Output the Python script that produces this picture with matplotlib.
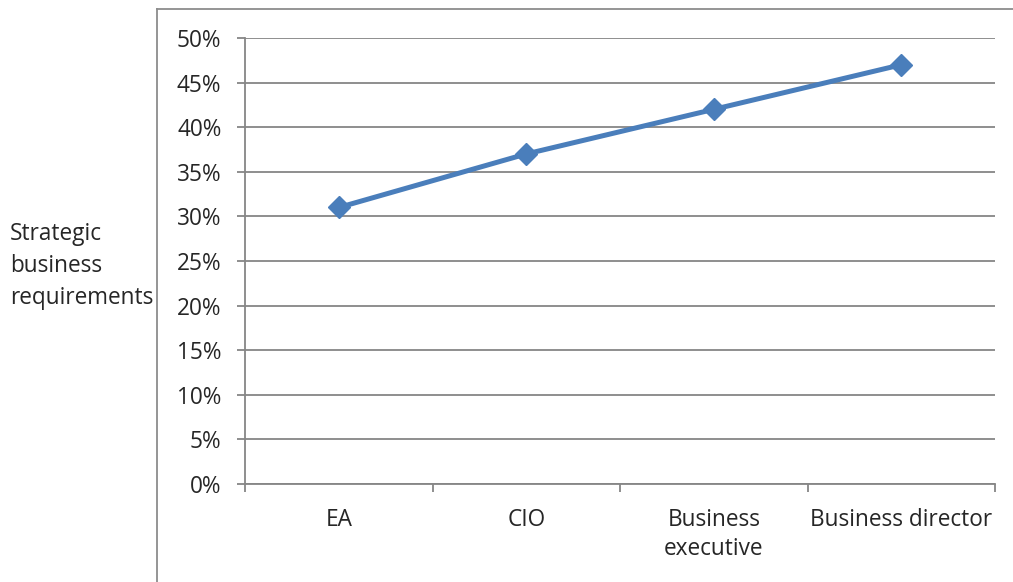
import matplotlib.pyplot as plt
from matplotlib.lines import Line2D
from matplotlib.ticker import FuncFormatter, MultipleLocator

categories = ["EA", "CIO", "Business\nexecutive", "Business director"]
values = [0.31, 0.37, 0.42, 0.47]
y_label = "Strategic\nbusiness\nrequirements"

W, H = 1013, 582
line_color = "#4a7ebb"
grid_color = "#868686"
text_color = "#262626"
fs = 16.3

plt.rcParams["font.family"] = ["Open Sans", "DejaVu Sans"]

fig = plt.figure(figsize=(W / 100, H / 100), dpi=100)
ax = fig.add_axes([245 / W, 1 - 484 / H, (995 - 245) / W, (484 - 38) / H])

x = list(range(len(categories)))
ax.plot(x, values, color=line_color, lw=3.6, marker="D", ms=11,
        markerfacecolor=line_color, markeredgecolor=line_color, zorder=3,
        solid_capstyle="round")

ax.set_xlim(-0.5, len(categories) - 0.5)
ax.set_ylim(0, 0.5)
ax.yaxis.set_major_locator(MultipleLocator(0.05))
ax.yaxis.set_major_formatter(FuncFormatter(lambda v, _: f"{round(v * 100)}%"))
ax.grid(axis="y", color=grid_color, lw=1.3)
ax.set_axisbelow(True)

# category boundaries carry the tick marks, labels sit at the centres
ax.set_xticks([i - 0.5 for i in range(len(categories) + 1)])
ax.set_xticklabels([])
ax.set_xticks(x, minor=True)
ax.set_xticklabels(categories, minor=True, fontsize=fs, color=text_color,
                   linespacing=1.3)
ax.tick_params(axis="x", which="minor", length=0, pad=17)
ax.tick_params(axis="x", which="major", length=6, width=1.3, color=grid_color)
ax.tick_params(axis="y", length=6, width=1.3, color=grid_color,
               labelsize=fs, labelcolor=text_color, pad=11)

for side in ["top", "right"]:
    ax.spines[side].set_visible(False)
for side in ["left", "bottom"]:
    ax.spines[side].set_color(grid_color)
    ax.spines[side].set_linewidth(1.3)

fig.text(10 / W, 1 - 266 / H, y_label, ha="left", va="center",
         fontsize=fs, color=text_color, linespacing=1.45)

# outer chart frame, cut off by the image edges
fig.add_artist(Line2D([157 / W, 157 / W], [0, 1 - 9 / H],
                      transform=fig.transFigure, color="#8c8c8c", lw=1.3))
fig.add_artist(Line2D([157 / W, 1], [1 - 9 / H, 1 - 9 / H],
                      transform=fig.transFigure, color="#8c8c8c", lw=1.3))

fig.savefig("out.png", dpi=100)
